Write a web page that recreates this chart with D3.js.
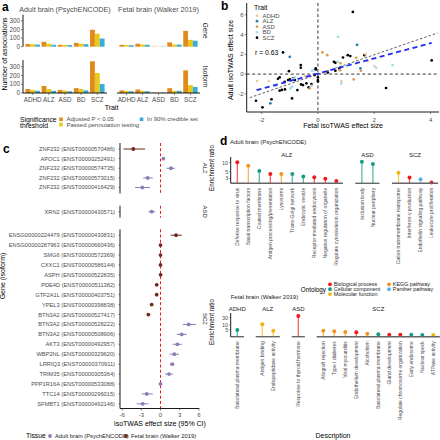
<!DOCTYPE html>
<html><head><meta charset="utf-8">
<script src="https://cdn.jsdelivr.net/npm/d3@7"></script>
<style>body{margin:0;background:#fff}svg{display:block;font-family:"Liberation Sans",Arial,sans-serif}</style>
</head><body><svg id="fig" width="440" height="440"></svg>
<script>
// ---------------- Panel a data ----------------
const traits = ["ADHD","ALZ","ASD","BD","SCZ"];
const thresholds = ["Adjusted P < 0.05","Passed permutation testing","In 90% credible set"];
const adultGene = [[32,28,25],[57,35,22],[22,20,18],[45,35,30],[198,152,95]];
const fetalGene = [[22,18,18],[35,25,22],[12,10,10],[50,25,25],[185,80,70]];
const adultIso  = [[45,35,25],[80,45,25],[35,28,20],[55,45,30],[362,228,103]];
const fetalIso  = [[30,25,20],[40,25,20],[12,10,10],[55,25,25],[258,90,70]];
const aTicks = [0,100,200,300];

// ---------------- Panel b data ----------------
const bTraits = ["ADHD","ALZ","ASD","BD","SCZ"];
const bFetal = [1.24,0.71,1.39,-1.24,-1.0,0.16,0.33,-0.61,-0.61,1.06,1.15,0.89,1.36,1.65,1.69,0.57,0.62,0.71,0.80,1.78,2.0,2.07,2.65,4.04,2.42,1.27,0.83,0.83,1.51,1.53,0.76,0.62,0.78,0,0,0,-0.15,-0.08,
 -2.16,-1.75,-2.2,-1.97,-1.65,-1.69,-0.92,-1.03,-1.36,-1.42,-1.06,-1.18,-1.0,-0.88,-0.82,-0.88,-0.82,-1.17,-1.36,-0.73,-0.92,-0.98,-0.53,-0.41,-0.33,-0.23,-0.29,-0.23,-0.12,-0.21,-0.07,-1.5,-1.28,-0.6,0.35,1.0,-0.45];
const bAdult = [6.3,3.77,2.96,2.19,1.75,2.19,1.92,0.91,0.64,1.92,1.82,1.68,1.65,1.92,2.02,1.24,1.14,1.24,1.1,1.31,0.81,0.64,0.91,1.38,-1.41,-0.54,-0.71,-0.95,0.57,0.34,0.57,0.34,0.4,-0.34,-0.61,-0.74,0.4,0.57,
 -0.71,-0.71,-2.7,-3.37,-2.56,-2.96,-2.46,0.3,-0.34,-0.47,-0.61,-0.78,-0.54,-0.44,-0.61,-0.51,-0.34,-1.55,-1.68,-1.62,-1.28,-1.45,-1.11,-0.94,-1.35,-1.01,-1.45,-1.18,-0.1,0.34,0.47,-1.2,-1.6,-1.05,0.15,0.85,-0.2];
const bTrait = ["SCZ","BD","ALZ","SCZ","ALZ","ASD","ASD","SCZ","SCZ","SCZ","SCZ","SCZ","ASD","SCZ","ADHD","SCZ","SCZ","BD","ASD","ADHD","ADHD","BD","BD","SCZ","SCZ","ASD","ADHD","BD","ALZ","ASD","SCZ","SCZ","ASD","SCZ","SCZ","SCZ","BD","SCZ",
 "ADHD","ADHD","SCZ","SCZ","SCZ","ALZ","SCZ","SCZ","SCZ","SCZ","SCZ","SCZ","SCZ","SCZ","SCZ","BD","BD","SCZ","SCZ","SCZ","BD","BD","SCZ","SCZ","SCZ","SCZ","ASD","BD","SCZ","BD","SCZ","BD","SCZ","SCZ","SCZ","BD","ADHD"];
const bIdentity = [[-2.42,-2.39],[4.25,4.17]];
const bFit = [[-2.18,-1.62],[4.04,3.16]];
const bR = "r = 0.63";

// ---------------- Panel c data ----------------
const cLabels = ["ZNF232 (ENST00000570486)","APOC1 (ENST00000252491)","ZNF232 (ENST00000574735)","ZNF232 (ENST00000573015)","ZNF232 (ENST00000416429)",
 "XRN2 (ENST00000430571)",
 "ENSG00000224479 (ENST00000430831)","ENSG00000287963 (ENST00000660436)","SMG6 (ENST00000572369)","CXXC1 (ENST00000586144)","ASPH (ENST00000522835)","PDE4D (ENST00000511382)","GTF2A1L (ENST00000403751)","YPEL3 (ENST00000398838)","BTN3A2 (ENST00000527417)","BTN3A2 (ENST00000528222)","BTN3A2 (ENST00000508906)","AKT3 (ENST00000492957)","WBP2NL (ENST00000329620)","LRRIQ3 (ENST00000370911)","TRIM35 (ENST00000305364)","PPP1R16A (ENST00000533088)","TTC14 (ENST00000296015)","SFMBT1 (ENST00000492146)"];
const cTrait = ["ALZ","ALZ","ALZ","ALZ","ALZ","ASD","SCZ","SCZ","SCZ","SCZ","SCZ","SCZ","SCZ","SCZ","SCZ","SCZ","SCZ","SCZ","SCZ","SCZ","SCZ","SCZ","SCZ","SCZ"];
const cTissue = ["Fetal","Adult","Adult","Adult","Adult","Adult","Fetal","Fetal","Fetal","Fetal","Fetal","Fetal","Fetal","Fetal","Fetal","Adult","Adult","Adult","Adult","Adult","Adult","Adult","Adult","Adult"];
const cEst = [-4.25,0.45,1.64,-2.0,-2.84,-1.38,2.42,0.0,0.0,0.0,0.02,-0.6,-0.6,-1.38,-1.9,4.4,3.31,2.63,2.16,1.84,1.33,0.0,-2.16,-2.78];
const cLo  = [-5.8,0.2,0.97,-2.69,-3.98,-1.9,1.59,-0.15,-0.15,-0.15,-0.13,-0.75,-0.75,-1.55,-2.05,3.47,2.53,1.9,1.45,1.5,0.7,-0.15,-2.94,-3.72];
const cHi  = [-2.4,0.7,2.27,-1.22,-1.64,-0.86,3.31,0.15,0.15,0.15,0.17,-0.45,-0.45,-1.2,-1.75,5.55,4.1,3.35,2.9,2.15,1.95,0.15,-1.22,-1.9];
const cTicks = [-6,-3,0,3,6];

// ---------------- Panel d data ----------------
const ontologies = ["Biological process","Cellular component","Molecular function","KEGG pathway","Panther pathway"];
const dAdultTerm = ["Defense response to virus","Basal transcription factors","Coated membrane","Antigen processing/presentation","Lysosome","Trans-Golgi network","Endocytic vesicle","Receptor-mediated endocytosis","Negative regulation of organelle","Regulate cytoskeleton organization","Inclusion body","Nuclear periphery","Cation transmembrane transporter","Interferon-γ production","Endothelin signaling pathway","Leukocyte proliferation"];
const dAdultTrait = ["ALZ","ALZ","ALZ","ALZ","ALZ","ALZ","ALZ","ALZ","ALZ","ALZ","ASD","ASD","SCZ","SCZ","SCZ","SCZ"];
const dAdultOnto = ["Biological process","KEGG pathway","Cellular component","Biological process","KEGG pathway","Cellular component","Cellular component","Biological process","Biological process","Biological process","Cellular component","Cellular component","Molecular function","Biological process","Panther pathway","Biological process"];
const dAdultRatio = [10.3,7.9,5.3,4.2,4.2,4.2,3.5,3.3,2.9,2.45,10.8,9.0,4.6,3.2,2.8,2.2];
const dAdultTicks = [3,5,10];
const dFetalTerm = ["Basolateral plasma membrane","Antigen binding","Endopeptidase activity","Response to thyroid hormone","Allograft rejection","Type I diabetes","Viral myocarditis","Endothelium development","Alcoholism","Basolateral plasma membrane ","Gland development","Regulate chromosome organization","Early endosome","Nuclear speck","ATPase activity"];
const dFetalTrait = ["ADHD","ALZ","ALZ","ASD","SCZ","SCZ","SCZ","SCZ","SCZ","SCZ","SCZ","SCZ","SCZ","SCZ","SCZ"];
const dFetalOnto = ["Cellular component","Molecular function","Molecular function","Biological process","KEGG pathway","KEGG pathway","KEGG pathway","Biological process","KEGG pathway","Cellular component","Biological process","Biological process","Cellular component","Cellular component","Molecular function"];
const dFetalRatio = [4.9,11.2,4.35,38,4.35,4.0,3.6,3.43,2.8,2.56,2.4,2.4,2.4,2.3,2.3];
const dFetalTicks = [5,10,30];

// ================= drawing =================
const svg = d3.select("#fig");
const GREY = "#4D4D4D";
function txt(g, x, y, s, o={}) {
  const t = g.append("text").attr("x", x).attr("y", y).text(s)
    .attr("font-size", o.size || 6).attr("fill", o.fill || GREY)
    .attr("text-anchor", o.anchor || "start");
  if (o.weight) t.attr("font-weight", o.weight);
  if (o.rot) t.attr("transform", `rotate(${o.rot},${x},${y})`);
  if (o.dy) t.attr("dy", o.dy);
  return t;
}
function line(g, x1, y1, x2, y2, c="#000", w=0.8, dash=null) {
  const l = g.append("line").attr("x1",x1).attr("y1",y1).attr("x2",x2).attr("y2",y2).attr("stroke",c).attr("stroke-width",w);
  if (dash) l.attr("stroke-dasharray", dash);
  return l;
}

// ---------- Panel a ----------
(function(){
  const g = svg.append("g");
  const cols = ["#E08A1E","#E8C81A","#3AADD9"];
  txt(g, 2, 11, "a", {size: 12, weight: "bold", fill: "#000"});
  const facets = [
    {name:"Adult brain (PsychENCODE)", x0:23, x1:107, gene:adultGene, iso:adultIso, left:true},
    {name:"Fetal brain (Walker 2019)", x0:117, x1:200, gene:fetalGene, iso:fetalIso, left:false}];
  const rows = [{key:"gene", label:"Gene", y0:14.6, y1:46.7, bottom:false},
                {key:"iso", label:"Isoform", y0:60.1, y1:93, bottom:true}];
  facets.forEach(f => {
    txt(g, (f.x0+f.x1)/2, 12, f.name, {size: 7.2, anchor: "middle"});
    const x = d3.scalePoint().domain(traits).range([f.x0, f.x1]).padding(0.6);
    const bw = x.step()*0.9/3;
    rows.forEach(r => {
      const y = d3.scaleLinear().domain([0,375]).range([r.y1, r.y0]);
      const vals = r.key === "gene" ? f.gene : f.iso;
      traits.forEach((t, i) => {
        vals[i].forEach((v, j) => {
          g.append("rect").attr("x", x(t) - 1.5*bw + j*bw).attr("width", bw)
            .attr("y", y(v)).attr("height", y(0)-y(v)).attr("fill", cols[j])
            .attr("opacity", (f.name.startsWith("Fetal") && t === "ASD") ? 0.35 : 1);
        });
      });
      if (f.left) {
        line(g, f.x0, r.y0, f.x0, r.y1, "#000", 0.9);
        aTicks.forEach(tk => {
          line(g, f.x0-2, y(tk), f.x0, y(tk), "#333", 0.6);
          txt(g, f.x0-3, y(tk), tk, {size: 6.3, anchor: "end", dy: "0.35em"});
        });
      }
      if (r.bottom) {
        line(g, f.x0, r.y1, f.x1, r.y1, "#000", 0.9);
        traits.forEach(t => {
          line(g, x(t), r.y1, x(t), r.y1+2, "#333", 0.6);
          txt(g, x(t), 101.8, t, {size: 6.3, anchor: "middle"});
        });
      }
    });
  });
  rows.forEach(r => txt(g, 205, (r.y0+r.y1)/2, r.label, {size: 6.5, anchor: "middle", rot: 90, fill: "#1a1a1a", dy: "0.35em"}));
  txt(g, 7, 54, "Number of associations", {size: 7, anchor: "middle", rot: -90, fill: "#000"});
  txt(g, 111.5, 109.5, "Trait", {size: 7, anchor: "middle", fill: "#000"});
  // legend
  txt(g, 20, 121.5, "Significance", {size: 6.8, fill: "#000"});
  txt(g, 20, 128, "threshold", {size: 6.8, fill: "#000"});
  const lg = [[61,119.3],[61,124.5],[141.5,119.3]];
  thresholds.forEach((s, j) => {
    g.append("rect").attr("x", lg[j][0]-1.8).attr("y", lg[j][1]-1.8).attr("width",3.6).attr("height",3.6).attr("fill", cols[j]);
    txt(g, lg[j][0]+5.5, lg[j][1], s, {size: 6, dy: "0.35em"});
  });
})();

// ---------- Panel b ----------
(function(){
  const g = svg.append("g");
  const colors = {ADHD:"#F3C7A3", ALZ:"#197FAA", ASD:"#DE9B4B", BD:"#A3DCE6", SCZ:"#000000"};
  txt(g, 221, 10, "b", {size: 12, weight: "bold", fill: "#000"});
  const x = d3.scaleLinear().domain([-2.53, 4.3]).range([246.7, 439]);
  const y = d3.scaleLinear().domain([-3.84, 7.2]).range([112, 3]);
  line(g, x(0), 3, x(0), 112, "#000", 0.8, "3,2.5");
  line(g, 246.7, y(0), 439, y(0), "#000", 0.8, "3,2.5");
  g.append("line").attr("x1", x(bIdentity[0][0])).attr("y1", y(bIdentity[0][1])).attr("x2", x(bIdentity[1][0])).attr("y2", y(bIdentity[1][1]))
    .attr("stroke","#333").attr("stroke-width",0.8).attr("stroke-dasharray","2.5,2");
  bFetal.forEach((fx, i) => {
    g.append("circle").attr("cx", x(fx)).attr("cy", y(bAdult[i])).attr("r", 1.35).attr("fill", colors[bTrait[i]]);
  });
  g.append("line").attr("x1", x(bFit[0][0])).attr("y1", y(bFit[0][1])).attr("x2", x(bFit[1][0])).attr("y2", y(bFit[1][1]))
    .attr("stroke","#1F2BEF").attr("stroke-width",1.8).attr("stroke-dasharray","5,3.5");
  line(g, 246.7, 3, 246.7, 112, "#000", 0.9);
  line(g, 246.7, 112, 439, 112, "#000", 0.9);
  [-2,0,2,4,6].forEach(t => { line(g, 244.7, y(t), 246.7, y(t), "#333", 0.6); txt(g, 243.5, y(t), t, {size: 6, anchor: "end", dy: "0.35em"}); });
  [-2,0,2,4].forEach(t => { line(g, x(t), 112, x(t), 114, "#333", 0.6); txt(g, x(t), 121.5, t, {size: 6, anchor: "middle"}); });
  txt(g, 343, 128, "Fetal isoTWAS effect size", {size: 7, anchor: "middle", fill: "#000"});
  txt(g, 233, 60, "Adult isoTWAS effect size", {size: 7, anchor: "middle", rot: -90, fill: "#000"});
  txt(g, 254, 9.5, "Trait", {size: 6.8, fill: "#000"});
  bTraits.forEach((t, i) => {
    const yy = 15.7 + i*5.5;
    g.append("circle").attr("cx", 257).attr("cy", yy).attr("r", 1.35).attr("fill", colors[t]);
    txt(g, 262.5, yy, t, {size: 6, dy: "0.35em"});
  });
  txt(g, 255, 52.3, bR, {size: 6.8, fill: "#000", dy: "0.35em"});
})();

// ---------- Panel c ----------
(function(){
  const g = svg.append("g");
  const colors = {Adult:"#8E7CB5", Fetal:"#6E2B1E"};
  txt(g, 3, 153, "c", {size: 12, weight: "bold", fill: "#000"});
  const x = d3.scaleLinear().domain([-6.33, 6.06]).range([120, 199.3]);
  const facets = [{t:"ALZ", r:[149,187.5], p:[143,193.5]},{t:"ASD", r:[211.7,211.7], p:[205.7,217.7]},{t:"SCZ", r:[235.2,403.8], p:[229.3,408.5]}];
  facets.forEach((f, fi) => {
    const idx = cTrait.map((t,i)=>t===f.t?i:-1).filter(i=>i>=0);
    const y = d3.scalePoint().domain(idx.map(i=>cLabels[i])).range(f.r);
    const yy = i => idx.length === 1 ? f.r[0] : y(cLabels[i]);
    line(g, x(0), f.p[0], x(0), f.p[1], "#F21B1B", 1, "3,2.2");
    idx.forEach(i => {
      line(g, x(cLo[i]), yy(i), x(cHi[i]), yy(i), colors[cTissue[i]], 1);
      g.append("circle").attr("cx", x(cEst[i])).attr("cy", yy(i)).attr("r", 1.9).attr("fill", colors[cTissue[i]]);
      txt(g, 115, yy(i), cLabels[i], {size: 5.7, anchor: "end", dy: "0.35em"});
      line(g, 118.5, yy(i), 120, yy(i), "#333", 0.5);
    });
    line(g, 120, f.p[0], 120, f.p[1], "#000", 0.9);
    txt(g, 205.5, (f.p[0]+f.p[1])/2, f.t, {size: 6, anchor: "middle", rot: 90, fill: "#1a1a1a", dy: "0.35em"});
    if (fi === 2) {
      line(g, 120, f.p[1], 199.3, f.p[1], "#000", 0.9);
      cTicks.forEach(t => { line(g, x(t), f.p[1], x(t), f.p[1]+2, "#333", 0.6); txt(g, x(t), 417, t, {size: 6, anchor: "middle"}); });
    }
  });
  txt(g, 160, 425.5, "isoTWAS effect size (95% CI)", {size: 7, anchor: "middle", fill: "#000"});
  txt(g, 5, 276, "Gene (isoform)", {size: 7, anchor: "middle", rot: -90, fill: "#000"});
  txt(g, 26, 436, "Tissue", {size: 6.8, fill: "#000", dy: "0.35em"});
  g.append("circle").attr("cx", 50).attr("cy", 436).attr("r", 1.9).attr("fill", colors.Adult);
  txt(g, 55, 436, "Adult brain (PsychENCODE)", {size: 5.8, dy: "0.35em", fill: "#222"});
  g.append("circle").attr("cx", 126).attr("cy", 436).attr("r", 1.9).attr("fill", colors.Fetal);
  txt(g, 131, 436, "Fetal brain (Walker 2019)", {size: 5.8, dy: "0.35em", fill: "#222"});
})();

// ---------- Panel d ----------
(function(){
  const g = svg.append("g");
  const oc = {"Biological process":"#F01B1B","Cellular component":"#169C85","Molecular function":"#EDB60E","KEGG pathway":"#F5921E","Panther pathway":"#56B4E9"};
  txt(g, 220, 145, "d", {size: 12, weight: "bold", fill: "#000"});
  const step = 11;
  function block(terms, trs, ontos, ratios, ticks, opt) {
    const y = d3.scaleLog().domain(opt.dom).range([opt.base, opt.top]);
    let xs = opt.x0;
    const groups = [...new Set(trs)];
    groups.forEach((tr, gi) => {
      const idx = trs.map((t,i)=>t===tr?i:-1).filter(i=>i>=0);
      const w = (idx.length - 1 + 1.2) * step;
      const x = d3.scalePoint().domain(idx.map(i=>terms[i])).range([xs, xs + w]).padding(0.6);
      txt(g, xs + w/2, opt.stripY, tr, {size: 6, anchor: "middle", fill: "#1a1a1a"});
      idx.forEach(i => {
        const cx = x(terms[i]);
        g.append("line").attr("x1", cx).attr("x2", cx).attr("y1", opt.base).attr("y2", y(ratios[i]))
          .attr("stroke", oc[ontos[i]]).attr("stroke-width", 1.2).attr("opacity", 0.75);
        g.append("circle").attr("cx", cx).attr("cy", y(ratios[i])).attr("r", 2).attr("fill", oc[ontos[i]]);
        txt(g, cx, opt.base + 4.5, terms[i].trim(), {size: 5, anchor: "end", rot: -90, dy: "0.35em"});
      });
      line(g, xs, opt.base, xs + w, opt.base, "#666", 1.4);
      if (gi === 0) {
        line(g, xs, opt.top, xs, opt.base, "#000", 0.9);
        ticks.forEach(t => { line(g, xs-1.5, y(t), xs, y(t), "#333", 0.5); txt(g, xs-2.5, y(t), t, {size: 5.5, anchor: "end", dy: "0.35em"}); });
      }
      xs += w + opt.gap;
    });
  }
  txt(g, 230, 143.5, "Adult brain (PsychENCODE)", {size: 6, fill: "#222"});
  block(dAdultTerm, dAdultTrait, dAdultOnto, dAdultRatio, dAdultTicks, {dom:[2.06,15.5], base:183.3, top:157, x0:230.7, gap:12.4, stripY:156.5});
  txt(g, 214, 168, "Enrichment ratio", {size: 6.3, anchor: "middle", rot: -90, fill: "#000"});
  txt(g, 230.7, 298.5, "Fetal brain (Walker 2019)", {size: 6, fill: "#222"});
  block(dFetalTerm, dFetalTrait, dFetalOnto, dFetalRatio, dFetalTicks, {dom:[1.8,59], base:336.7, top:313, x0:230.7, gap:11.8, stripY:311});
  txt(g, 214, 322, "Enrichment ratio", {size: 6.3, anchor: "middle", rot: -90, fill: "#000"});
  txt(g, 333, 438, "Description", {size: 7, anchor: "middle", fill: "#000"});
  // legend
  txt(g, 326, 289.5, "Ontology", {size: 6.3, fill: "#000", dy: "0.35em", anchor: "end"});
  const pos = [[330,284.3],[330,289.2],[330,294.1],[389,284.3],[389,289.2]];
  ontologies.forEach((o, i) => {
    g.append("circle").attr("cx", pos[i][0]).attr("cy", pos[i][1]).attr("r", 1.9).attr("fill", oc[o]);
    txt(g, pos[i][0]+3.8, pos[i][1], o, {size: 5.4, dy: "0.35em", fill: "#222"});
  });
})();
</script></body></html>
